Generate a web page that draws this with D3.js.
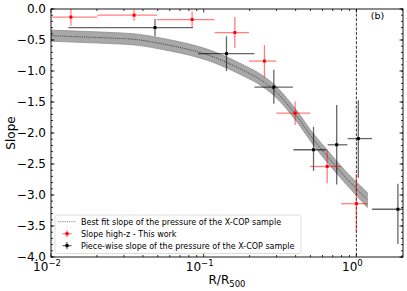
<!DOCTYPE html>
<html>
<head>
<meta charset="utf-8">
<style>
body { margin: 0; background: #fff; }
text { font-family: "DejaVu Sans", sans-serif; fill: #000; }
</style>
</head>
<body>
<script src="https://cdn.jsdelivr.net/npm/d3@7"></script>
<script>

// best fit slope and half width of the grey band
var fitX = [0.01, 0.016, 0.0254, 0.0382, 0.0516, 0.0697, 0.0942, 0.118, 0.141, 0.185, 0.232, 0.287, 0.399, 0.515, 0.637, 0.740, 1.0, 1.18];
var fitY = [-0.43, -0.45, -0.47, -0.50, -0.555, -0.62, -0.70, -0.78, -0.86, -1.00, -1.13, -1.30, -1.70, -2.08, -2.36, -2.55, -2.90, -3.08];
var fitErr = [0.09, 0.09, 0.09, 0.09, 0.09, 0.09, 0.09, 0.09, 0.09, 0.09, 0.09, 0.09, 0.09, 0.09, 0.10, 0.10, 0.11, 0.12];

// slope high-z (red)
var redX = [0.0135, 0.035, 0.084, 0.16, 0.25, 0.397, 0.644, 1.0];
var redXLo = [0.0101, 0.0201, 0.0495, 0.118, 0.198, 0.299, 0.498, 0.794];
var redXHi = [0.0201, 0.0495, 0.118, 0.198, 0.299, 0.498, 0.794, 1.19];
var redY = [-0.13, -0.10, -0.17, -0.38, -0.84, -1.68, -2.54, -3.14];
var redYErr = [0.14, 0.09, 0.13, 0.25, 0.26, 0.19, 0.27, 0.47];

// piece-wise slope X-COP (black)
var blkX = [0.048, 0.141, 0.288, 0.524, 0.743, 1.03, 1.87];
var blkXLo = [0.013, 0.092, 0.215, 0.387, 0.649, 0.877, 1.267];
var blkXHi = [0.085, 0.215, 0.384, 0.634, 0.873, 1.267, 2.6];
var blkY = [-0.30, -0.72, -1.26, -2.27, -2.19, -2.09, -3.23];
var blkYDown = [0.14, 0.28, 0.27, 0.34, 0.64, 0.63, 0.56];
var blkYUp = [0.14, 0.28, 0.28, 0.37, 0.64, 0.62, 0.41];

var yTicks = [0.0, -0.5, -1.0, -1.5, -2.0, -2.5, -3.0, -3.5, -4.0];
var xTicks = [0.01, 0.1, 1];
var xTickExp = ["\u22122", "\u22121", "0"];

var legendLabels = [
	"Best fit slope of the pressure of the X-COP sample",
	"Slope high-z - This work",
	"Piece-wise slope of the pressure of the X-COP sample"
];

var W = 407, H = 291;
var L = 51, R = 403, T = 9, B = 257;

var svg = d3.select("body").append("svg")
	.attr("width", W)
	.attr("height", H);

var x = d3.scaleLog().domain([0.01, 2.02]).range([L, R]);
var y = d3.scaleLinear().domain([-4, 0]).range([B, T]);

svg.append("clipPath").attr("id", "clip")
	.append("rect").attr("x", L).attr("y", T).attr("width", R - L).attr("height", B - T);

var plot = svg.append("g").attr("clip-path", "url(#clip)");

/* band + best fit line */

var fit = fitX.map(function(d, i) { return {x: d, y: fitY[i], e: fitErr[i]}; });

plot.append("path")
	.datum(fit)
	.attr("d", d3.area()
		.curve(d3.curveMonotoneX)
		.x(function(d) { return x(d.x); })
		.y0(function(d) { return y(d.y - d.e); })
		.y1(function(d) { return y(d.y + d.e); }))
	.style("fill", "#a8a8a8")
	.style("stroke", "#8a8a8a")
	.style("stroke-width", 0.7);

plot.append("path")
	.datum(fit)
	.attr("d", d3.line()
		.curve(d3.curveMonotoneX)
		.x(function(d) { return x(d.x); })
		.y(function(d) { return y(d.y); }))
	.style("fill", "none")
	.style("stroke", "#333")
	.style("stroke-width", 0.8)
	.style("stroke-dasharray", "1.2,1");

/* vertical line at R500 */

plot.append("line")
	.attr("x1", x(1)).attr("x2", x(1))
	.attr("y1", T).attr("y2", B)
	.style("stroke", "#000")
	.style("stroke-width", 0.8)
	.style("stroke-dasharray", "3,1.6");

/* error bars */

function errorbars(pts, color, alpha) {
	var g = plot.append("g");
	g.selectAll(".h").data(pts).enter().append("line")
		.attr("x1", function(d) { return x(d.xlo); })
		.attr("x2", function(d) { return x(d.xhi); })
		.attr("y1", function(d) { return y(d.y); })
		.attr("y2", function(d) { return y(d.y); })
		.style("stroke", color).style("stroke-opacity", alpha).style("stroke-width", 1.3);
	g.selectAll(".v").data(pts).enter().append("line")
		.attr("x1", function(d) { return x(d.x); })
		.attr("x2", function(d) { return x(d.x); })
		.attr("y1", function(d) { return y(d.y + d.up); })
		.attr("y2", function(d) { return y(d.y - d.down); })
		.style("stroke", color).style("stroke-opacity", alpha).style("stroke-width", 1.3);
	g.selectAll(".m").data(pts).enter().append("rect")
		.attr("x", function(d) { return x(d.x) - 1.5; })
		.attr("y", function(d) { return y(d.y) - 1.5; })
		.attr("width", 3).attr("height", 3)
		.style("fill", color);
}

var blk = blkX.map(function(d, i) {
	return {x: d, xlo: blkXLo[i], xhi: blkXHi[i], y: blkY[i], up: blkYUp[i], down: blkYDown[i]};
});
var red = redX.map(function(d, i) {
	return {x: d, xlo: redXLo[i], xhi: redXHi[i], y: redY[i], up: redYErr[i], down: redYErr[i]};
});

errorbars(blk, "#000", 0.6);
errorbars(red, "#ff0000", 0.5);

/* frame */

svg.append("rect")
	.attr("x", L).attr("y", T).attr("width", R - L).attr("height", B - T)
	.style("fill", "none").style("stroke", "#000").style("stroke-width", 0.9);

/* ticks (inward, all four sides) */

var yMinor = d3.range(-40, 1).map(function(d) { return d / 10; });
var xMinor = x.ticks().filter(function(d) { return xTicks.indexOf(d) === -1; });

function tickLines(vals, horiz, len, pos, dir) {
	svg.append("g").selectAll("line").data(vals).enter().append("line")
		.attr("x1", function(d) { return horiz ? x(d) : pos; })
		.attr("x2", function(d) { return horiz ? x(d) : pos + dir * len; })
		.attr("y1", function(d) { return horiz ? pos : y(d); })
		.attr("y2", function(d) { return horiz ? pos + dir * len : y(d); })
		.style("stroke", "#000").style("stroke-width", 0.8);
}

tickLines(xTicks, true, 3.5, B, -1);
tickLines(xTicks, true, 3.5, T, 1);
tickLines(xMinor, true, 2, B, -1);
tickLines(xMinor, true, 2, T, 1);
tickLines(yTicks, false, 3.5, L, 1);
tickLines(yTicks, false, 3.5, R, -1);
tickLines(yMinor, false, 2, L, 1);
tickLines(yMinor, false, 2, R, -1);

/* tick labels */

svg.append("g").selectAll("text").data(yTicks).enter().append("text")
	.attr("x", L - 5)
	.attr("y", function(d) { return y(d) + 4.3; })
	.attr("text-anchor", "end")
	.style("font-size", "12px")
	.text(function(d) { return d3.format(".1f")(d); });

var xl = svg.append("g").selectAll("text").data(xTicks).enter().append("text")
	.attr("x", function(d) { return x(d) - 4; })
	.attr("y", B + 14)
	.attr("text-anchor", "middle")
	.style("font-size", "12px");
xl.append("tspan").text("10");
xl.append("tspan")
	.attr("dy", -5)
	.style("font-size", "8.5px")
	.text(function(d, i) { return xTickExp[i]; });

/* axis labels */

svg.append("text")
	.attr("transform", "translate(15," + ((T + B) / 2) + ") rotate(-90)")
	.attr("text-anchor", "middle")
	.style("font-size", "12px")
	.text("Slope");

var xlab = svg.append("text")
	.attr("x", (L + R) / 2)
	.attr("y", 284)
	.attr("text-anchor", "middle")
	.style("font-size", "12px");
xlab.append("tspan").text("R/R");
xlab.append("tspan").attr("dy", 3).style("font-size", "8.5px").text("500");

svg.append("text")
	.attr("x", 377.5).attr("y", 18.5)
	.attr("text-anchor", "middle")
	.style("font-size", "9.5px")
	.text("(b)");

/* legend */

var lg = svg.append("g");
lg.append("rect")
	.attr("x", 55).attr("y", 215).attr("width", 246).attr("height", 38.5)
	.attr("rx", 2)
	.style("fill", "#fff").style("fill-opacity", 0.8)
	.style("stroke", "#d6d6d6").style("stroke-width", 0.8);

var rowY = [221.7, 233.7, 245.6];

lg.append("line")
	.attr("x1", 58).attr("x2", 76).attr("y1", rowY[0]).attr("y2", rowY[0])
	.style("stroke", "#666").style("stroke-width", 0.8).style("stroke-dasharray", "1.2,1");

[["#ff0000", 0.5], ["#000", 0.6]].forEach(function(c, i) {
	var cy = rowY[i + 1];
	lg.append("line").attr("x1", 62.5).attr("x2", 71.5).attr("y1", cy).attr("y2", cy)
		.style("stroke", c[0]).style("stroke-opacity", c[1]).style("stroke-width", 1.3);
	lg.append("line").attr("x1", 67).attr("x2", 67).attr("y1", cy - 3.5).attr("y2", cy + 3.5)
		.style("stroke", c[0]).style("stroke-opacity", c[1]).style("stroke-width", 1.3);
	lg.append("rect").attr("x", 65.5).attr("y", cy - 1.5).attr("width", 3).attr("height", 3)
		.style("fill", c[0]);
});

lg.selectAll(".lt").data(legendLabels).enter().append("text")
	.attr("x", 81)
	.attr("y", function(d, i) { return rowY[i] + 2.9; })
	.style("font-size", "8px")
	.text(function(d) { return d; });

</script>
</body>
</html>
